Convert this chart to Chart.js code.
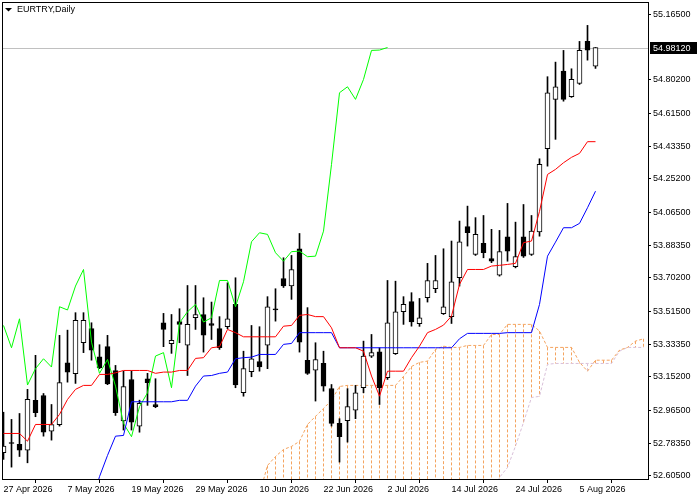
<!DOCTYPE html>
<html lang="en">
<head>
  <meta charset="UTF-8">
  <title>EURTRY Daily</title>
  <script src="https://cdn.jsdelivr.net/npm/chart.js"></script>
  <style>
    html, body { margin: 0; padding: 0; background: #fff; }
    #wrap { width: 700px; height: 500px; }
  </style>
</head>
<body>
  <div id="wrap"><canvas id="chartCanvas" width="700" height="500"></canvas></div>

  <script>
    // EURTRY daily candles, 27 Apr 2026 .. 7 Aug 2026 (index 0..74)
    const symbolTitle = 'EURTRY,Daily';
    const dateLabels = ['27 Apr 2026', '7 May 2026', '19 May 2026', '29 May 2026', '10 Jun 2026',
                        '22 Jun 2026', '2 Jul 2026', '14 Jul 2026', '24 Jul 2026', '5 Aug 2026'];
    const dateTickIdx = [0, 8, 16, 24, 32, 40, 48, 56, 64, 72];
    const priceTicks = [55.165, 54.802, 54.615, 54.4335, 54.252, 54.065, 53.8835, 53.702,
                        53.515, 53.3335, 53.152, 52.965, 52.7835, 52.605];
    const lastPrice = 54.9812;

    const open = [
      52.730, 52.786, 52.776, 52.744, 53.021, 53.048, 52.850, 52.886, 53.230, 53.169,
      53.341, 53.419, 53.263, 53.319, 53.186, 52.906, 53.137, 52.878, 53.141, 52.997,
      53.452, 53.336, 53.459, 53.328, 53.480, 53.498, 53.448, 53.419, 53.430, 53.554,
      53.063, 53.180, 53.236, 53.328, 53.529, 53.698, 53.656, 53.863, 53.243, 53.189,
      53.226, 53.087, 52.893, 52.908, 52.967, 53.091, 53.267, 53.291, 53.147, 53.280,
      53.513, 53.569, 53.447, 53.591, 53.641, 53.502, 53.486, 53.702, 53.986, 53.832,
      53.893, 53.809, 53.717, 53.930, 53.763, 53.930, 53.832, 53.956, 54.419, 54.693,
      54.850, 54.708, 54.782, 55.015, 54.878
    ];
    const high = [
      52.955, 52.915, 52.948, 53.082, 53.271, 53.059, 52.998, 53.382, 53.411, 53.508,
      53.508, 53.452, 53.330, 53.382, 53.215, 53.183, 53.185, 53.022, 53.171, 53.141,
      53.504, 53.498, 53.530, 53.659, 53.659, 53.591, 53.567, 53.486, 53.674, 53.702,
      53.294, 53.437, 53.430, 53.597, 53.641, 53.813, 53.826, 53.948, 53.536, 53.341,
      53.294, 53.109, 52.919, 53.086, 53.104, 53.350, 53.387, 53.313, 53.687, 53.683,
      53.597, 53.619, 53.587, 53.782, 53.826, 53.863, 53.906, 54.017, 54.100, 54.036,
      54.048, 53.971, 53.965, 54.115, 54.011, 54.109, 54.048, 54.363, 54.819, 54.900,
      54.965, 54.863, 55.015, 55.104, 54.9812
    ];
    const low = [
      52.693, 52.650, 52.709, 52.674, 52.930, 52.822, 52.800, 52.878, 53.122, 53.115,
      53.286, 53.244, 53.197, 53.108, 52.937, 52.856, 52.856, 52.844, 52.993, 52.980,
      53.319, 53.282, 53.341, 53.159, 53.415, 53.289, 53.359, 53.304, 53.419, 53.091,
      53.044, 53.152, 53.183, 53.197, 53.461, 53.648, 53.582, 53.289, 53.165, 53.017,
      53.072, 52.878, 52.678, 52.789, 52.919, 53.063, 53.259, 52.998, 53.137, 53.276,
      53.443, 53.433, 53.432, 53.567, 53.619, 53.498, 53.448, 53.656, 53.878, 53.826,
      53.813, 53.786, 53.711, 53.794, 53.757, 53.815, 53.826, 53.933, 54.322, 54.471,
      54.683, 54.704, 54.776, 54.911, 54.865
    ];
    const close = [
      52.767, 52.781, 52.744, 53.026, 52.952, 52.844, 52.886, 53.119, 53.178, 53.465,
      53.465, 53.300, 53.202, 53.112, 52.952, 53.097, 52.900, 53.004, 53.119, 52.986,
      53.415, 53.354, 53.443, 53.443, 53.498, 53.383, 53.437, 53.313, 53.474, 53.106,
      53.197, 53.252, 53.206, 53.541, 53.523, 53.656, 53.748, 53.344, 53.171, 53.248,
      53.100, 52.893, 52.819, 52.986, 53.063, 53.267, 53.286, 53.091, 53.452, 53.513,
      53.554, 53.456, 53.480, 53.687, 53.687, 53.541, 53.680, 53.902, 53.952, 53.943,
      53.841, 53.794, 53.847, 53.850, 53.819, 53.822, 53.961, 54.332, 54.730, 54.763,
      54.693, 54.804, 54.965, 54.967, 54.9812
    ];

    // Ichimoku lines as drawn on the chart
    const tenkan = [
      52.837, 52.837, 52.837, 52.794, 52.887, 52.887, 52.887, 52.943, 53.026, 53.082,
      53.104, 53.104, 53.165, 53.165, 53.174, 53.187, 53.187, 53.187, 53.187, 53.171,
      53.178, 53.178, 53.187, 53.187, 53.254, 53.258, 53.313, 53.319, 53.415, 53.397,
      53.374, 53.374, 53.374, 53.374, 53.374, 53.433, 53.437, 53.493, 53.498, 53.486,
      53.486, 53.424, 53.313, 53.313, 53.313, 53.294, 53.156, 53.044, 53.183, 53.183,
      53.183, 53.258, 53.322, 53.397, 53.415, 53.439, 53.489, 53.665, 53.748, 53.748,
      53.748, 53.767, 53.771, 53.776, 53.782, 53.897, 53.906, 54.071, 54.276, 54.304,
      54.341, 54.371, 54.393, 54.458, 54.458
    ];
    const kijun = [
      null, null, null, null, null, null, null, null, null, null,
      null, 52.450, 52.597, 52.715, 52.822, 52.826, 53.013, 53.013, 53.013, 53.013,
      53.013, 53.013, 53.021, 53.021, 53.100, 53.156, 53.159, 53.171, 53.178, 53.252,
      53.258, 53.261, 53.276, 53.276, 53.276, 53.332, 53.337, 53.397, 53.397, 53.397,
      53.397, 53.397, 53.313, 53.313, 53.313, 53.313, 53.313, 53.313, 53.313, 53.313,
      53.313, 53.313, 53.313, 53.313, 53.313, 53.313, 53.313, 53.363, 53.393, 53.393,
      53.393, 53.393, 53.393, 53.397, 53.397, 53.397, 53.397, 53.554, 53.822, 53.900,
      53.980, 53.980, 54.004, 54.091, 54.183
    ];
    // lagging span, index 0..48
    const chikou = [
      53.437, 53.313, 53.474, 53.106, 53.197, 53.252, 53.206, 53.541, 53.523, 53.656,
      53.748, 53.344, 53.171, 53.248, 53.100, 52.893, 52.819, 52.986, 53.063, 53.267,
      53.286, 53.091, 53.452, 53.513, 53.554, 53.456, 53.480, 53.687, 53.687, 53.541,
      53.680, 53.902, 53.952, 53.943, 53.841, 53.794, 53.847, 53.850, 53.819, 53.822,
      53.961, 54.332, 54.730, 54.763, 54.693, 54.804, 54.965, 54.967, 54.9812
    ];
    // leading spans, index 0..80 (runs 6 bars past the last candle)
    const spanA = [
      null, null, null, null, null, null, null, null, null, null,
      null, null, null, null, null, null, null, null, null, null,
      null, null, null, null, null, null, null, null, null, null,
      null, null, 52.500, 52.659, 52.709, 52.748, 52.765, 52.793, 52.887, 52.932,
      52.976, 53.021, 53.098, 53.104, 53.104, 53.104, 53.104, 53.104, 53.104, 53.104,
      53.154, 53.209, 53.232, 53.239, 53.304, 53.322, 53.315, 53.315, 53.326, 53.326,
      53.326, 53.387, 53.387, 53.443, 53.443, 53.443, 53.443, 53.406, 53.315, 53.315,
      53.315, 53.315, 53.232, 53.183, 53.244, 53.244, 53.244, 53.300, 53.315, 53.350,
      53.363
    ];
    const spanB = [
      null, null, null, null, null, null, null, null, null, null,
      null, null, null, null, null, null, null, null, null, null,
      null, null, null, null, null, null, null, null, null, null,
      null, null, 52.450, 52.450, 52.450, 52.450, 52.450, 52.450, 52.450, 52.450,
      52.450, 52.450, 52.450, 52.450, 52.450, 52.450, 52.450, 52.450, 52.450, 52.450,
      52.450, 52.450, 52.450, 52.450, 52.450, 52.450, 52.450, 52.450, 52.450, 52.450,
      52.450, 52.450, 52.593, 52.648, 52.767, 52.898, 53.037, 53.043, 53.221, 53.226,
      53.226, 53.226, 53.226, 53.226, 53.226, 53.226, 53.226, 53.294, 53.315, 53.315,
      53.315
    ];

    const axisFont = { family: "'Liberation Sans', Arial, sans-serif", size: 9 };
    const toPoints = arr => arr.map((v, i) => ({ x: i, y: v }));

    // cloud hatching: dotted vertical strokes between the two leading spans
    const cloudHatch = {
      id: 'cloudHatch',
      beforeDatasetsDraw(chart) {
        const { ctx, chartArea: a, scales: { x, y } } = chart;
        ctx.save();
        ctx.beginPath();
        ctx.rect(a.left, a.top, a.right - a.left, a.bottom - a.top);
        ctx.clip();

        // current price line
        const py = Math.round(y.getPixelForValue(lastPrice)) + 0.5;
        ctx.strokeStyle = '#c0c0c0';
        ctx.lineWidth = 1;
        ctx.beginPath();
        ctx.moveTo(a.left, py);
        ctx.lineTo(a.right, py);
        ctx.stroke();

        ctx.setLineDash([3, 2]);
        spanA.forEach((va, i) => {
          const vb = spanB[i];
          if (va === null || vb === null) return;
          const px = Math.floor(x.getPixelForValue(i)) + 0.5;
          ctx.strokeStyle = va >= vb ? '#f4a460' : '#d8bfd8';
          ctx.beginPath();
          ctx.moveTo(px, y.getPixelForValue(va));
          ctx.lineTo(px, y.getPixelForValue(vb));
          ctx.stroke();
        });
        ctx.restore();
      }
    };

    // frame, symbol caption and the last price box
    const terminalFrame = {
      id: 'terminalFrame',
      afterDraw(chart) {
        const { ctx, chartArea: a, scales: { y } } = chart;
        ctx.save();
        ctx.strokeStyle = '#000';
        ctx.lineWidth = 1;
        ctx.strokeRect(a.left + 0.5, a.top + 0.5, a.right - a.left, a.bottom - a.top);

        // caption
        ctx.fillStyle = '#000';
        ctx.beginPath();
        ctx.moveTo(5, 8);
        ctx.lineTo(12, 8);
        ctx.lineTo(8.5, 11.5);
        ctx.closePath();
        ctx.fill();
        ctx.font = "9px 'Liberation Sans', Arial, sans-serif";
        ctx.textBaseline = 'middle';
        ctx.fillText(symbolTitle, 17, 10);

        // last price label
        const py = Math.round(y.getPixelForValue(lastPrice));
        ctx.fillRect(a.right + 2, py - 6, 47, 12);
        ctx.fillStyle = '#fff';
        ctx.fillText(lastPrice.toFixed(5), a.right + 5, py + 0.5);
        ctx.restore();
      }
    };

    const ctx = document.getElementById('chartCanvas').getContext('2d');

    new Chart(ctx, {
      data: {
        datasets: [
          {
            type: 'line', label: 'Tenkan-sen', data: toPoints(tenkan),
            borderColor: '#ff0000', borderWidth: 1, pointRadius: 0, tension: 0, order: 0
          },
          {
            type: 'line', label: 'Kijun-sen', data: toPoints(kijun),
            borderColor: '#0000ff', borderWidth: 1, pointRadius: 0, tension: 0, order: 0
          },
          {
            type: 'line', label: 'Chikou Span', data: toPoints(chikou),
            borderColor: '#00ff00', borderWidth: 1, pointRadius: 0, tension: 0, order: 0
          },
          {
            type: 'bar', label: 'Body',
            data: open.map((o, i) => ({ x: i, y: [o, close[i]] })),
            backgroundColor: open.map((o, i) => close[i] >= o ? '#ffffff' : '#000000'),
            borderColor: '#000', borderWidth: 1, borderSkipped: false,
            barThickness: 5, grouped: false, order: 1
          },
          {
            type: 'bar', label: 'Wick',
            data: high.map((h, i) => ({ x: i, y: [low[i], h] })),
            backgroundColor: '#000', borderWidth: 0,
            barThickness: 1, grouped: false, order: 2
          },
          {
            type: 'line', label: 'Senkou Span A', data: toPoints(spanA),
            borderColor: '#f4a460', borderWidth: 1, borderDash: [3, 2],
            pointRadius: 0, tension: 0, order: 3
          },
          {
            type: 'line', label: 'Senkou Span B', data: toPoints(spanB),
            borderColor: '#d8bfd8', borderWidth: 1, borderDash: [3, 2],
            pointRadius: 0, tension: 0, order: 3
          }
        ]
      },
      options: {
        responsive: false,
        animation: false,
        devicePixelRatio: 1,
        events: [],
        layout: { padding: { left: 2, top: 2, right: 0, bottom: 0 } },
        plugins: {
          legend: { display: false },
          tooltip: { enabled: false }
        },
        scales: {
          x: {
            type: 'linear',
            position: 'bottom',
            min: -0.1875,
            max: 80.5625,
            offset: false,
            afterBuildTicks: s => { s.ticks = dateTickIdx.map(v => ({ value: v })); },
            afterFit: s => { s.height = 21; s.paddingLeft = 0; s.paddingRight = 0; },
            ticks: {
              autoSkip: false,
              maxRotation: 0,
              align: 'start',
              padding: 1,
              color: '#000',
              font: axisFont,
              callback: v => dateLabels[dateTickIdx.indexOf(v)]
            },
            grid: { drawOnChartArea: false, drawTicks: true, tickLength: 4, color: '#000' },
            border: { display: false }
          },
          y: {
            position: 'right',
            min: 52.584,
            max: 55.234,
            afterBuildTicks: s => { s.ticks = priceTicks.map(v => ({ value: v })); },
            afterFit: s => { s.width = 52; s.paddingTop = 0; s.paddingBottom = 0; },
            ticks: {
              autoSkip: false,
              padding: 2,
              color: '#000',
              font: axisFont,
              callback: v => v.toFixed(5)
            },
            grid: { drawOnChartArea: false, drawTicks: true, tickLength: 3, color: '#000' },
            border: { display: false }
          }
        }
      },
      plugins: [cloudHatch, terminalFrame]
    });
  </script>
</body>
</html>
